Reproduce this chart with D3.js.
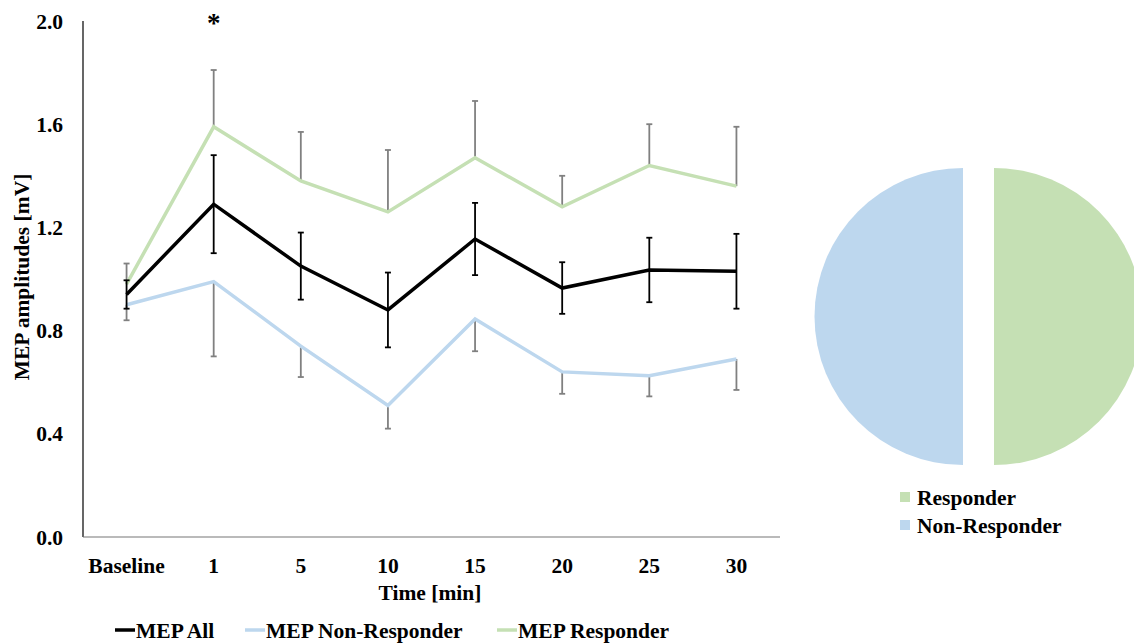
<!DOCTYPE html>
<html>
<head>
<meta charset="utf-8">
<script src="https://cdn.jsdelivr.net/npm/d3@7"></script>
<style>
  body { margin: 0; background: #fff; }
  svg { display: block; font-family: "Liberation Serif", "Times New Roman", serif; font-weight: bold; }
</style>
</head>
<body>
<svg id="chart" width="1134" height="643"></svg>
<script>
// time points
const timePoints = ["Baseline", "1", "5", "10", "15", "20", "25", "30"];

// means (mV)
const mepAll = [0.94, 1.29, 1.05, 0.88, 1.155, 0.965, 1.035, 1.03];
const mepNonResponder = [0.90, 0.99, 0.74, 0.51, 0.845, 0.64, 0.625, 0.69];
const mepResponder = [0.98, 1.59, 1.38, 1.26, 1.47, 1.28, 1.44, 1.36];

// error bar sizes
const errAll = [0.055, 0.19, 0.13, 0.145, 0.14, 0.10, 0.125, 0.145];
const errNonResponder = [0.06, 0.29, 0.12, 0.09, 0.125, 0.085, 0.08, 0.12];
const errResponder = [0.08, 0.22, 0.19, 0.24, 0.22, 0.12, 0.16, 0.23];

const yTicks = [0.0, 0.4, 0.8, 1.2, 1.6, 2.0];

// pie
const groups = ["Responder", "Non-Responder"];
const groupCounts = [50, 50];

const green = "#c5e0b4";
const blue = "#bdd7ee";
const fontSize = "21.5px";

const svg = d3.select("#chart");

const x = d3.scaleBand()
    .domain(timePoints)
    .range([83, 780]);

const y = d3.scaleLinear()
    .domain([0, 2])
    .range([537, 21]);

// axes lines
svg.append("line")
    .attr("x1", 83).attr("x2", 83)
    .attr("y1", y(2)).attr("y2", y(0))
    .attr("stroke", "#000").attr("stroke-width", 1.2);
svg.append("line")
    .attr("x1", 83).attr("x2", 780)
    .attr("y1", y(0)).attr("y2", y(0))
    .attr("stroke", "#777").attr("stroke-width", 1.2);

// y tick labels
svg.selectAll(".ytick")
    .data(yTicks)
    .enter()
    .append("text")
    .attr("x", 63)
    .attr("y", d => y(d))
    .attr("dy", "0.35em")
    .attr("text-anchor", "end")
    .style("font-size", fontSize)
    .text(d => d.toFixed(1));

// x tick labels
svg.selectAll(".xtick")
    .data(timePoints)
    .enter()
    .append("text")
    .attr("x", d => x(d) + x.bandwidth() / 2)
    .attr("y", 565)
    .attr("dy", "0.35em")
    .attr("text-anchor", "middle")
    .style("font-size", fontSize)
    .text(d => d);

svg.append("text")
    .attr("x", 430)
    .attr("y", 592)
    .attr("dy", "0.35em")
    .attr("text-anchor", "middle")
    .style("font-size", fontSize)
    .text("Time [min]");

svg.append("text")
    .attr("transform", "translate(21,277) rotate(-90)")
    .attr("dy", "0.35em")
    .attr("text-anchor", "middle")
    .style("font-size", fontSize)
    .text("MEP amplitudes [mV]");

const cx = d => x(d) + x.bandwidth() / 2;

function errorBars(values, errs, dirUp, dirDown, color, width) {
    const g = svg.append("g");
    values.forEach((v, i) => {
        const t = timePoints[i];
        const top = dirUp ? v + errs[i] : v;
        const bot = dirDown ? v - errs[i] : v;
        g.append("line")
            .attr("x1", cx(t)).attr("x2", cx(t))
            .attr("y1", y(top)).attr("y2", y(bot))
            .attr("stroke", color).attr("stroke-width", width);
        if (dirUp) {
            g.append("line")
                .attr("x1", cx(t) - 3).attr("x2", cx(t) + 3)
                .attr("y1", y(top)).attr("y2", y(top))
                .attr("stroke", color).attr("stroke-width", width);
        }
        if (dirDown) {
            g.append("line")
                .attr("x1", cx(t) - 3).attr("x2", cx(t) + 3)
                .attr("y1", y(bot)).attr("y2", y(bot))
                .attr("stroke", color).attr("stroke-width", width);
        }
    });
}

const line = d3.line()
    .x((d, i) => cx(timePoints[i]))
    .y(d => y(d));

// non-responder and responder error bars (one-sided)
errorBars(mepResponder, errResponder, true, false, "#808080", 1.8);
errorBars(mepNonResponder, errNonResponder, false, true, "#808080", 1.8);

svg.append("path")
    .datum(mepNonResponder)
    .attr("d", line)
    .attr("fill", "none")
    .attr("stroke", blue)
    .attr("stroke-width", 3.5);

svg.append("path")
    .datum(mepResponder)
    .attr("d", line)
    .attr("fill", "none")
    .attr("stroke", green)
    .attr("stroke-width", 3.5);

errorBars(mepAll, errAll, true, true, "#000", 1.8);

svg.append("path")
    .datum(mepAll)
    .attr("d", line)
    .attr("fill", "none")
    .attr("stroke", "#000")
    .attr("stroke-width", 3.5);

// significance marker
svg.append("text")
    .attr("x", cx("1"))
    .attr("y", 32)
    .attr("text-anchor", "middle")
    .style("font-size", "27px")
    .text("*");

// bottom legend
const legendItems = [
    { label: "MEP All", color: "#000", x: 115 },
    { label: "MEP Non-Responder", color: blue, x: 245 },
    { label: "MEP Responder", color: green, x: 497 }
];
const leg = svg.selectAll(".leg")
    .data(legendItems)
    .enter()
    .append("g")
    .attr("transform", d => `translate(${d.x},630)`);
leg.append("line")
    .attr("x1", 0).attr("x2", 20)
    .attr("stroke", d => d.color)
    .attr("stroke-width", 3.5);
leg.append("text")
    .attr("x", 21)
    .attr("dy", "0.35em")
    .style("font-size", fontSize)
    .text(d => d.label);

// pie chart
const pieColors = d3.scaleOrdinal().domain(groups).range([green, blue]);
const pie = d3.pie().sort(null)(groupCounts);
const radius = 148.5;
const arc = d3.arc().innerRadius(0).outerRadius(radius);
const explode = 15.5;
const pieG = svg.append("g").attr("transform", "translate(978.5,316.5)");
pieG.selectAll("path")
    .data(pie)
    .enter()
    .append("path")
    .attr("d", arc)
    .attr("fill", (d, i) => pieColors(groups[i]))
    .attr("transform", d => {
        const a = (d.startAngle + d.endAngle) / 2;
        return `translate(${Math.sin(a) * explode},${-Math.cos(a) * explode})`;
    });

// pie legend
const pleg = svg.selectAll(".pleg")
    .data(groups)
    .enter()
    .append("g")
    .attr("transform", (d, i) => `translate(900,${497 + i * 28})`);
pleg.append("rect")
    .attr("x", 0).attr("y", -5)
    .attr("width", 10).attr("height", 10)
    .attr("fill", d => pieColors(d));
pleg.append("text")
    .attr("x", 17)
    .attr("dy", "0.35em")
    .style("font-size", fontSize)
    .text(d => d);
</script>
</body>
</html>
